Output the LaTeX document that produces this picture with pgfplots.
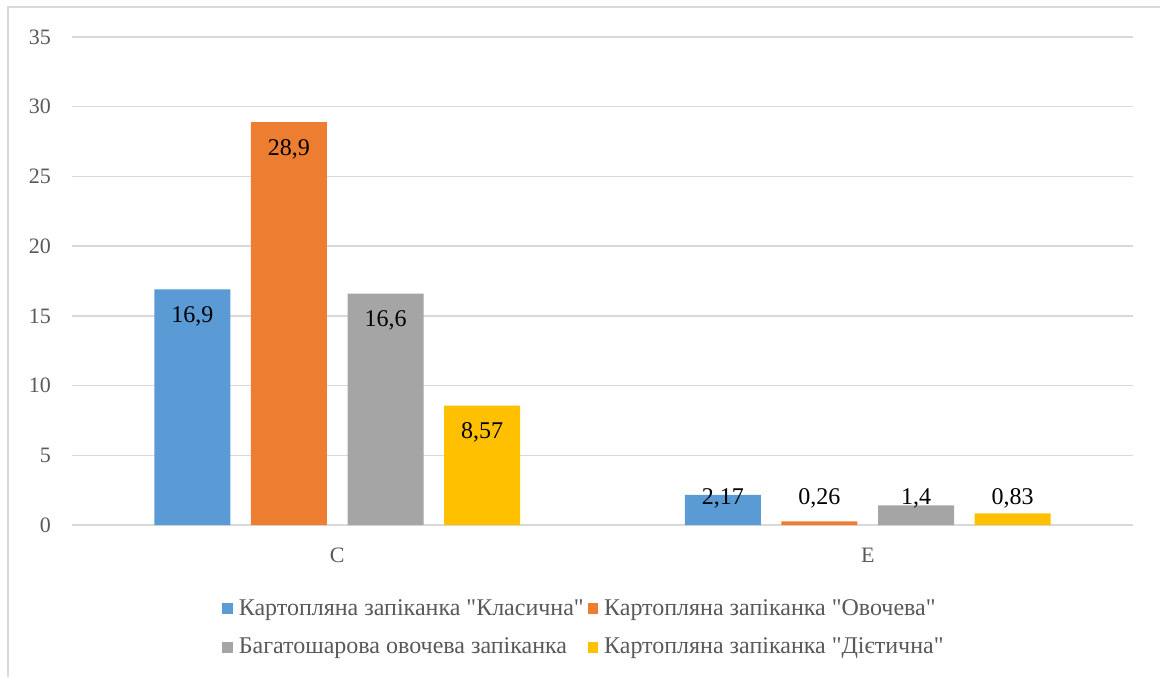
\documentclass[border=0pt]{standalone}
\usepackage{fontspec}
\setmainfont{Liberation Serif}[Ligatures=TeXOff]
\usepackage{pgfplots}
\usepackage{pgfplotstable}
\pgfplotsset{compat=1.18}

\definecolor{cBlue}{HTML}{5B9BD5}
\definecolor{cOrange}{HTML}{ED7D31}
\definecolor{cGray}{HTML}{A5A5A5}
\definecolor{cYellow}{HTML}{FFC000}
\definecolor{gridgray}{HTML}{D9D9D9}
\definecolor{txtgray}{HTML}{595959}
\newcommand{\q}{\symbol{34}}

% rows: C, E; columns: the four dishes
\pgfplotstableread{
x a b c d
0 16.9 28.9 16.6 8.57
1 2.17 0.26 1.4 0.83
}\vitamins

\begin{document}
\begin{tikzpicture}
\path[use as bounding box] (-36pt,-76pt) rectangle (544pt,262.5pt);
\draw[gridgray, line width=0.6pt] (-32pt,-76pt) -- (-32pt,259pt) -- (544pt,259pt);
\begin{axis}[
    at={(0,0)}, anchor=south west,
    scale only axis,
    width=530.5pt, height=244pt,
    xmin=-0.5, xmax=1.5,
    ymin=0, ymax=35,
    ytick={0,5,...,35},
    xtick={0,1},
    xticklabels={C,E},
    axis line style={draw=none},
    major tick length=0pt,
    ymajorgrids,
    grid style={gridgray, line width=0.75pt},
    /pgf/number format/assume math mode=true,
    /pgf/number format/use comma,
    ticklabel style={font=\fontsize{11}{13}\selectfont, text=txtgray},
    yticklabel style={xshift=-7pt},
    xticklabel style={yshift=-8pt},
    bar width=0.1433,
    ybar,
    legend columns=2,
    legend cell align=left,
    legend style={
        at={(0.1414,-0.143)}, anchor=north west,
        draw=none, inner sep=0pt,
        font=\fontsize{12}{14}\selectfont, text=txtgray,
        row sep=6pt,
        /tikz/every odd column/.append style={column sep=1pt},
        /tikz/every even column/.append style={column sep=0pt},
    },
    lbl/.style={
        nodes near coords,
        visualization depends on={\thisrow{#1} \as \yv},
        every node near coord/.append style={
            anchor=center, text=black,
            font=\fontsize{12}{14}\selectfont,
            yshift={6.975pt*(max(\yv-1.94,1.9)-\yv)}
        }
    },
    sq/.style={legend image code/.code={
        \fill[##1] (0pt,-2.6pt) rectangle (5.2pt,2.6pt);}},
]
\addplot[ybar, bar shift=-0.273, fill=cBlue, draw=none, lbl=a, sq]
    table[x=x, y=a] {\vitamins};
\addlegendentry{Картопляна запіканка \q Класична\q}
\addplot[ybar, bar shift=-0.091, fill=cOrange, draw=none, lbl=b, sq]
    table[x=x, y=b] {\vitamins};
\addlegendentry{Картопляна запіканка \q Овочева\q}
\addplot[ybar, bar shift=0.091, fill=cGray, draw=none, lbl=c, sq]
    table[x=x, y=c] {\vitamins};
\addlegendentry{Багатошарова овочева запіканка}
\addplot[ybar, bar shift=0.273, fill=cYellow, draw=none, lbl=d, sq]
    table[x=x, y=d] {\vitamins};
\addlegendentry{Картопляна запіканка \q Дієтична\q}
\end{axis}
\end{tikzpicture}
\end{document}
